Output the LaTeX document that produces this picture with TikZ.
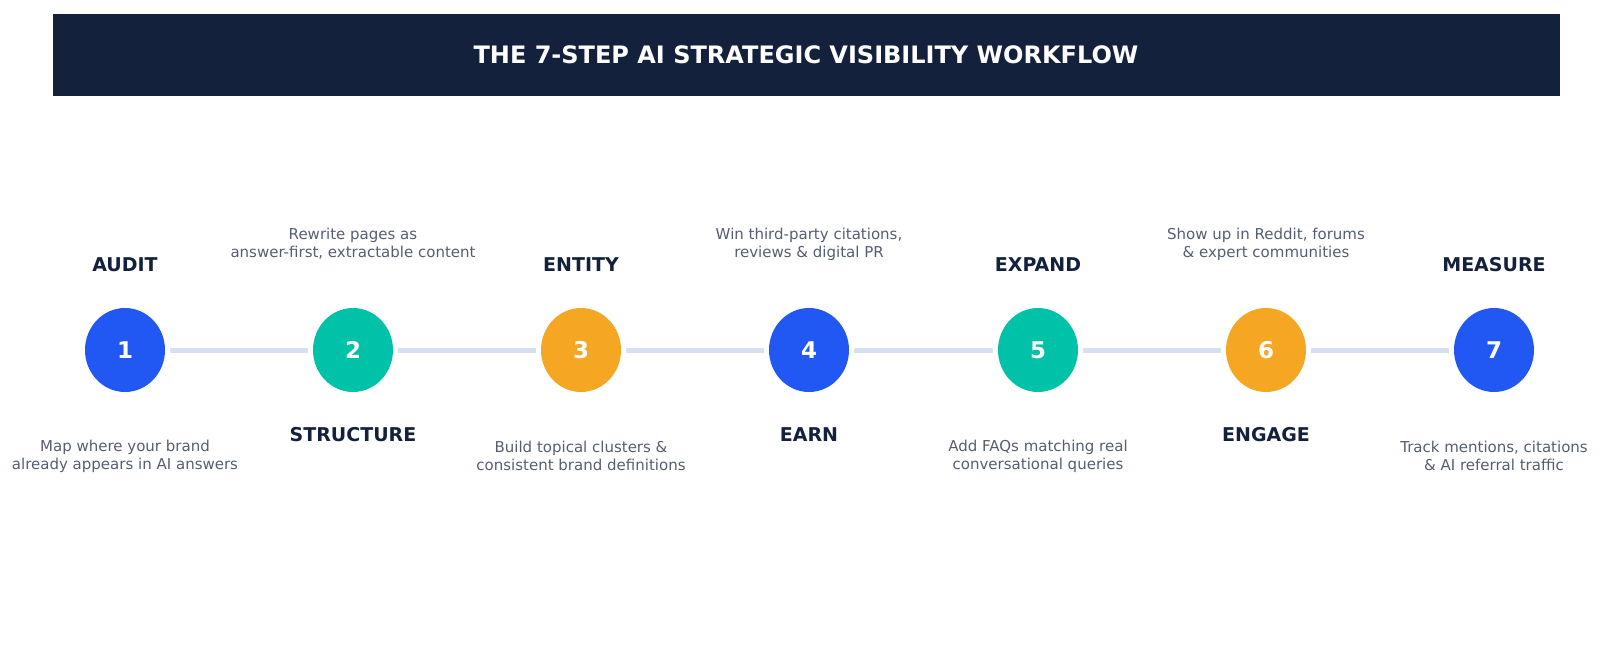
\documentclass[tikz,border=0pt]{standalone}
\usepackage{fontspec}
\setmainfont{DejaVu Sans}
\usetikzlibrary{shapes.geometric}
\definecolor{navy}{HTML}{13213C}
\definecolor{cblue}{HTML}{2157F2}
\definecolor{cteal}{HTML}{00C2A8}
\definecolor{corange}{HTML}{F5A623}
\definecolor{lline}{HTML}{D6E0F0}
\definecolor{dgray}{HTML}{555E70}
\begin{document}
\begin{tikzpicture}[x=1pt,y=-1pt,
  stepnode/.style={ellipse,minimum width=80pt,minimum height=84pt,inner sep=0pt,text=white,font=\fontsize{23}{26}\selectfont\bfseries},
  lbl/.style={text=navy,font=\fontsize{19}{22}\selectfont\bfseries},
  desc/.style={text=dgray,align=center,font=\fontsize{15}{18}\selectfont},
  conn/.style={draw=lline,line width=5pt}]
\useasboundingbox (0,0) rectangle (1600,659);
\fill[navy] (53,14) rectangle (1560,96);
\node[text=white,font=\fontsize{24}{28}\selectfont\bfseries] (title) at (806,55) {THE 7-STEP AI STRATEGIC VISIBILITY WORKFLOW};
\foreach \i/\x/\c in {1/125/cblue,2/353/cteal,3/581/corange,4/809/cblue,5/1038/cteal,6/1266/corange,7/1494/cblue}
  \node[stepnode,fill=\c] (s\i) at (\x,350) {\i};
\foreach \a/\b in {1/2,2/3,3/4,4/5,5/6,6/7}
  \draw[conn] ([xshift=5pt]s\a.east) -- ([xshift=-5pt]s\b.west);
\node[lbl] (l1) at (125,265) {AUDIT};
\node[lbl] (l3) at (581,265) {ENTITY};
\node[lbl] (l5) at (1038,265) {EXPAND};
\node[lbl] (l7) at (1494,265) {MEASURE};
\node[lbl] (l2) at (353,435) {STRUCTURE};
\node[lbl] (l4) at (809,435) {EARN};
\node[lbl] (l6) at (1266,435) {ENGAGE};
\node[desc] (d1) at (125,456) {Map where your brand\\already appears in AI answers};
\node[desc] (d3) at (581,456) {Build topical clusters \&\\consistent brand definitions};
\node[desc] (d5) at (1038,456) {Add FAQs matching real\\conversational queries};
\node[desc] (d7) at (1494,456) {Track mentions, citations\\\& AI referral traffic};
\node[desc] (d2) at (353,244) {Rewrite pages as\\answer-first, extractable content};
\node[desc] (d4) at (809,244) {Win third-party citations,\\reviews \& digital PR};
\node[desc] (d6) at (1266,244) {Show up in Reddit, forums\\\& expert communities};
\end{tikzpicture}
\end{document}
